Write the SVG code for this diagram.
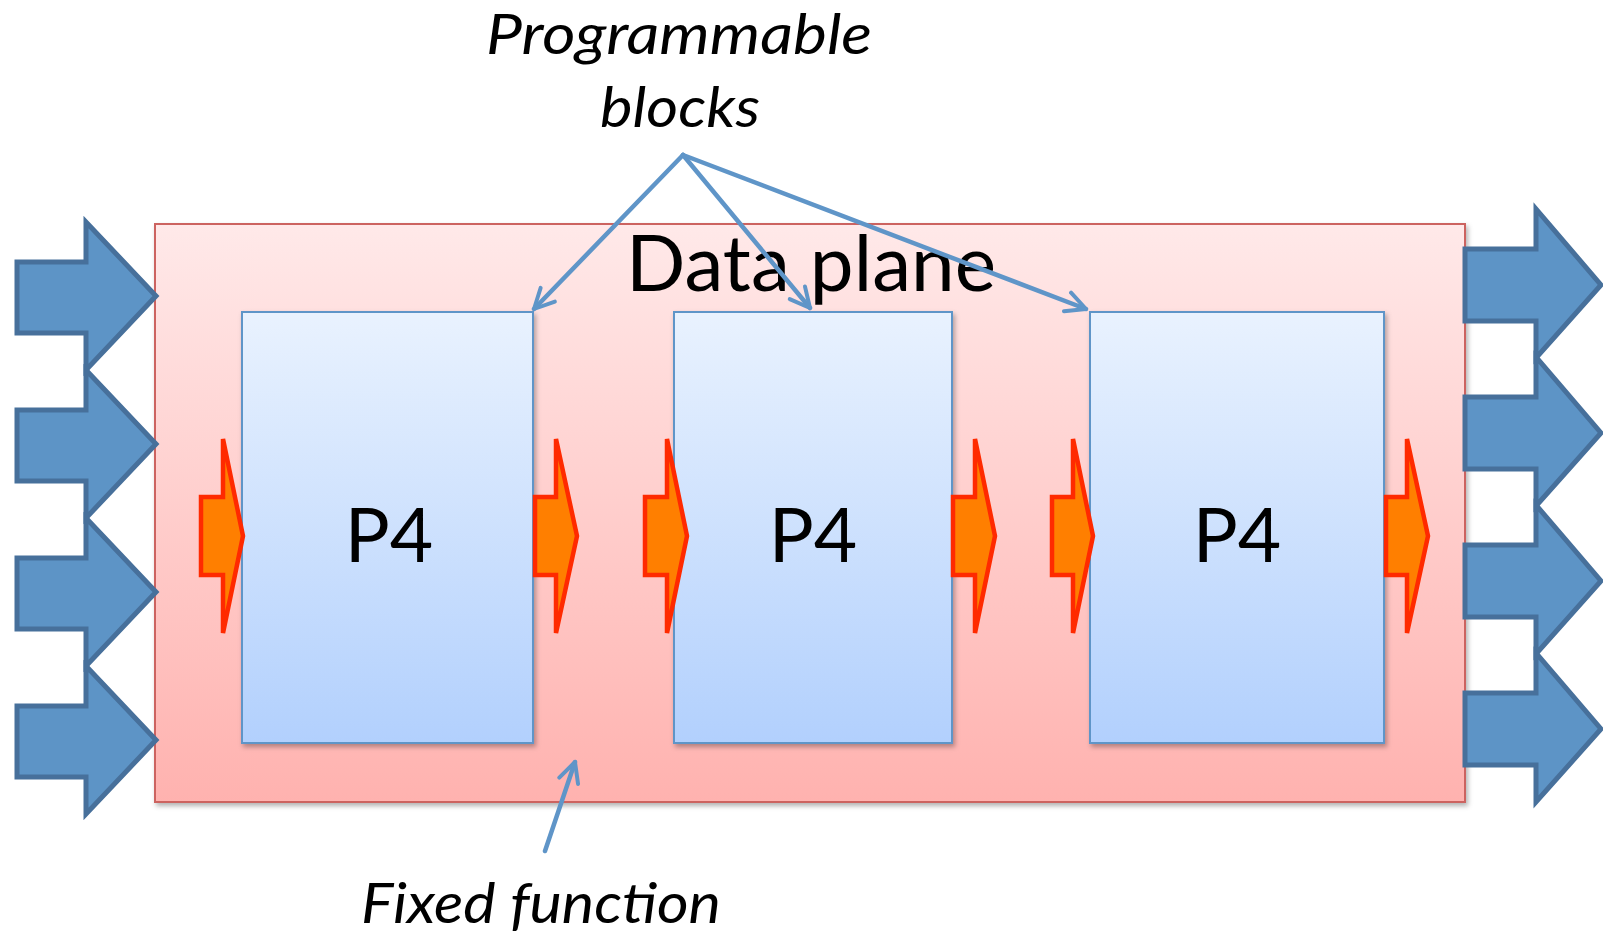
<svg xmlns="http://www.w3.org/2000/svg" width="1603" height="936" viewBox="0 0 1603 936">
<defs>
<linearGradient id="redGrad" x1="0" y1="0" x2="0" y2="1">
<stop offset="0" stop-color="#FFE9E9"/>
<stop offset="1" stop-color="#FFB2AF"/>
</linearGradient>
<linearGradient id="blueGrad" x1="0" y1="0" x2="0" y2="1">
<stop offset="0" stop-color="#E9F2FE"/>
<stop offset="1" stop-color="#B2D0FD"/>
</linearGradient>
<filter id="shadow" x="-5%" y="-5%" width="110%" height="110%">
<feDropShadow dx="2" dy="3" stdDeviation="2.5" flood-color="#000" flood-opacity="0.3"/>
</filter>
<marker id="open" viewBox="0 0 10 10" refX="9" refY="5" markerWidth="5.5" markerHeight="5.5" markerUnits="strokeWidth" orient="auto">
<path d="M1,1 L9,5 L1,9" fill="none" stroke="#5F95C8" stroke-width="1.6" stroke-linecap="round" stroke-linejoin="round"/>
</marker>
</defs>
<style>
.blue{fill:#5D94C6;stroke:#47709B;stroke-width:5;stroke-linejoin:miter;stroke-miterlimit:10}
.orange{fill:#FF7F00;stroke:#FF2A00;stroke-width:4.5;stroke-linejoin:miter;stroke-miterlimit:4}
.box{fill:url(#blueGrad);stroke:#5F95C8;stroke-width:2;filter:url(#shadow)}
.conn{fill:none;stroke:#5F95C8;stroke-width:4.5;stroke-linecap:round;marker-end:url(#open)}
.lbl{font-family:Lato,"Open Sans","Liberation Sans",sans-serif;fill:#000}
.it{font-style:italic;font-size:57px}
</style>
<rect width="1603" height="936" fill="#FFFFFF"/>

<g id="data-plane">
<rect x="155" y="224" width="1310" height="578" fill="url(#redGrad)" stroke="#CC6460" stroke-width="2" filter="url(#shadow)"/>
<text class="lbl" x="626" y="291" font-size="77" textLength="370" lengthAdjust="spacingAndGlyphs">Data plane</text>
</g>

<g id="inputs">
<path class="blue" d="M17,262 L86,262 L86,222 L156,296 L86,370 L86,333 L17,333 Z"/>
<path class="blue" d="M17,410 L86,410 L86,370 L156,444 L86,518 L86,481 L17,481 Z"/>
<path class="blue" d="M17,558 L86,558 L86,518 L156,592 L86,666 L86,629 L17,629 Z"/>
<path class="blue" d="M17,706 L86,706 L86,666 L156,740 L86,814 L86,777 L17,777 Z"/>
</g>

<g id="outputs">
<path class="blue" d="M1465,249 L1536,249 L1536,209 L1601,285 L1536,358 L1536,321 L1465,321 Z"/>
<path class="blue" d="M1465,397 L1536,397 L1536,357 L1601,433 L1536,506 L1536,469 L1465,469 Z"/>
<path class="blue" d="M1465,545 L1536,545 L1536,505 L1601,581 L1536,654 L1536,617 L1465,617 Z"/>
<path class="blue" d="M1465,693 L1536,693 L1536,653 L1601,729 L1536,802 L1536,765 L1465,765 Z"/>
</g>

<g id="p4-1">
<rect class="box" x="242" y="312" width="291" height="431"/>
<text class="lbl" x="389" y="562" font-size="75" text-anchor="middle">P4</text>
</g>
<g id="p4-2">
<rect class="box" x="674" y="312" width="278" height="431"/>
<text class="lbl" x="813" y="562" font-size="75" text-anchor="middle">P4</text>
</g>
<g id="p4-3">
<rect class="box" x="1090" y="312" width="294" height="431"/>
<text class="lbl" x="1237" y="562" font-size="75" text-anchor="middle">P4</text>
</g>

<g id="flow">
<path class="orange" d="M201,497 L223,497 L223,439 L243,536 L223,633 L223,575 L201,575 Z"/>
<path class="orange" d="M535,497 L556,497 L556,439 L577,536 L556,633 L556,575 L535,575 Z"/>
<path class="orange" d="M645,497 L667,497 L667,439 L687,536 L667,633 L667,575 L645,575 Z"/>
<path class="orange" d="M953,497 L975,497 L975,439 L995,536 L975,633 L975,575 L953,575 Z"/>
<path class="orange" d="M1052,497 L1073,497 L1073,439 L1093,536 L1073,633 L1073,575 L1052,575 Z"/>
<path class="orange" d="M1386,497 L1407,497 L1407,439 L1428,536 L1407,633 L1407,575 L1386,575 Z"/>
</g>

<g id="connectors">
<line class="conn" x1="683" y1="155" x2="534" y2="309"/>
<line class="conn" x1="683" y1="155" x2="810" y2="308"/>
<line class="conn" x1="683" y1="155" x2="1086" y2="309"/>
<line class="conn" x1="545" y1="851" x2="575" y2="762"/>
</g>

<g id="labels">
<text class="lbl it" x="679" y="54" text-anchor="middle" textLength="386" lengthAdjust="spacingAndGlyphs">Programmable</text>
<text class="lbl it" x="680" y="127" text-anchor="middle" textLength="160" lengthAdjust="spacingAndGlyphs">blocks</text>
<text class="lbl it" x="541" y="923" text-anchor="middle" textLength="360" lengthAdjust="spacingAndGlyphs">Fixed function</text>
</g>
</svg>
